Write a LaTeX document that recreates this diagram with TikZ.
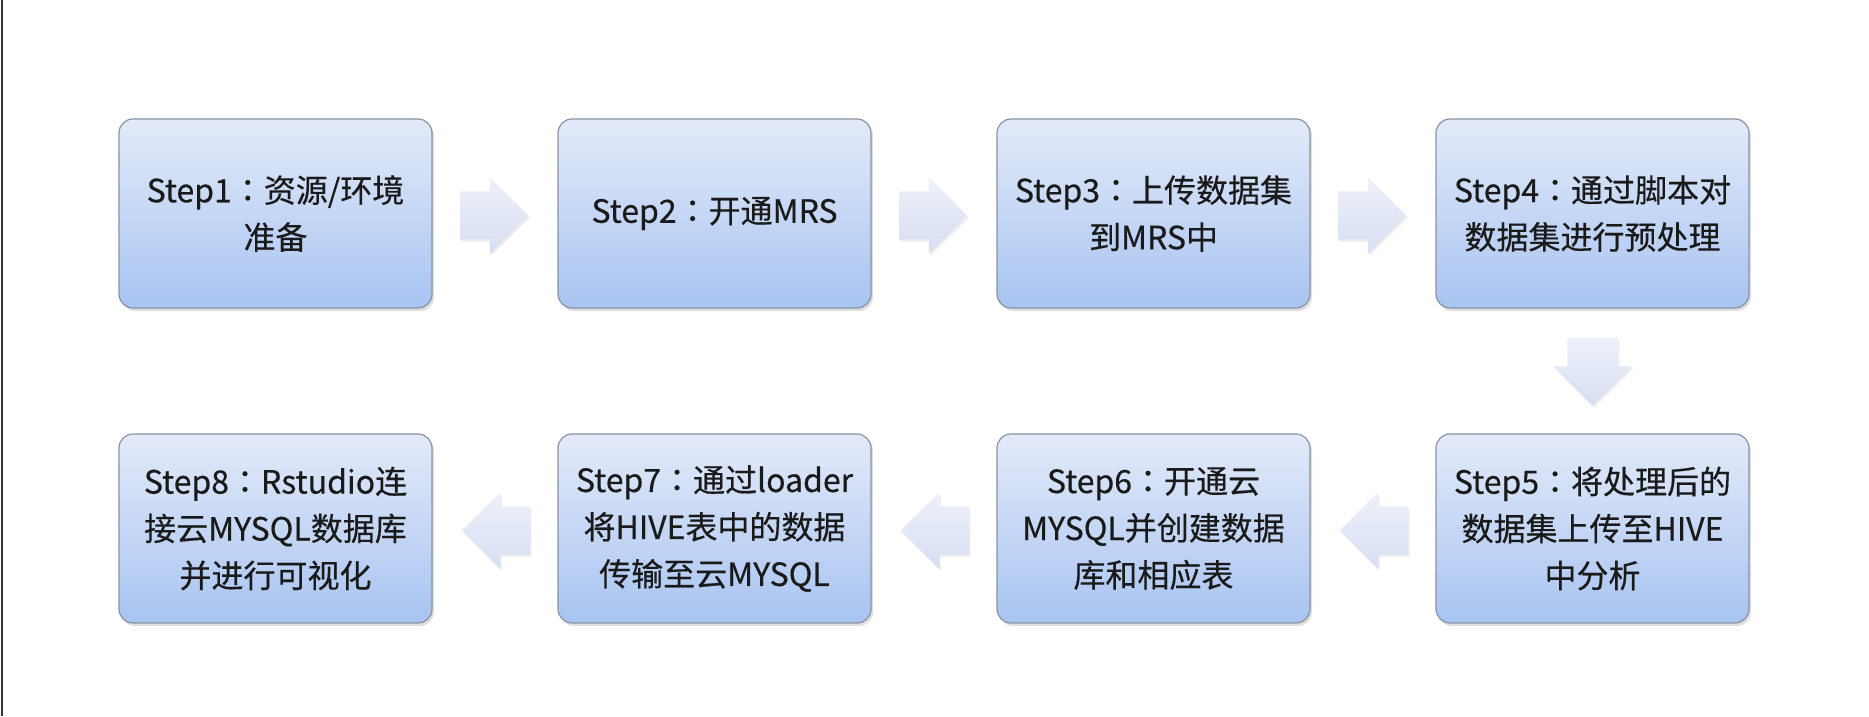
\documentclass[tikz,border=0pt]{standalone}
\usepackage{fontspec}
\setmainfont{Noto Sans CJK SC}[FakeBold=0.4]
\newfontfamily\jpfont{Noto Sans CJK JP}[FakeBold=0.4]
\newcommand\fwcolon{{\jpfont ：}}
\usetikzlibrary{shapes.arrows,shadows,calc}
\definecolor{boxtop}{HTML}{E3EAF9}
\definecolor{boxbot}{HTML}{A8C4F1}
\definecolor{boxedge}{HTML}{8A93A3}
\definecolor{arrtop}{HTML}{EEF1FA}
\definecolor{arrbot}{HTML}{D6DEF2}
\definecolor{txt}{HTML}{1A1A1A}
\tikzset{
  stepbox/.style={draw=boxedge, line width=1.2pt, rounded corners=14pt,
    top color=boxtop, bottom color=boxbot,
    minimum width=313pt, minimum height=189pt, inner sep=0pt,
    align=center, text=txt, font=\fontsize{32}{47}\selectfont,
    drop shadow={opacity=0.25, shadow xshift=2pt, shadow yshift=-3pt}},
  blockarrow/.style={single arrow, draw=none, top color=arrtop, bottom color=arrbot,
    minimum height=68pt, minimum width=0pt, single arrow head extend=14pt,
    single arrow head indent=0pt, inner xsep=0pt, inner ysep=24pt,
    drop shadow={opacity=0.15, shadow xshift=1.5pt, shadow yshift=-2pt}},
  downarrow/.style={blockarrow, shape border rotate=270, inner xsep=25pt, inner ysep=0pt}
}
\begin{document}
\begin{tikzpicture}[x=1pt,y=-1pt]
\useasboundingbox (0,0) rectangle (1869,716);
\fill[white] (0,0) rectangle (1869,716);
\draw[line width=2pt, color=black!80] (1.5,0) -- (1.5,716);

\node[stepbox] (s1) at (275.5,213.5) {Step1\fwcolon 资源/环境\\准备};
\node[stepbox] (s2) at (714.5,213.5) {Step2\fwcolon 开通MRS};
\node[stepbox] (s3) at (1153.5,213.5) {Step3\fwcolon 上传数据集\\到MRS中};
\node[stepbox] (s4) at (1592.5,213.5) {Step4\fwcolon 通过脚本对\\数据集进行预处理};
\node[stepbox] (s5) at (1592.5,528.5) {Step5\fwcolon 将处理后的\\数据集上传至HIVE\\中分析};
\node[stepbox] (s6) at (1153.5,528.5) {Step6\fwcolon 开通云\\MYSQL并创建数据\\库和相应表};
\node[stepbox] (s7) at (714.5,528.5) {Step7\fwcolon 通过loader\\将HIVE表中的数据\\传输至云MYSQL};
\node[stepbox] (s8) at (275.5,528.5) {Step8\fwcolon Rstudio连\\接云MYSQL数据库\\并进行可视化};

\node[blockarrow] (a12) at ($(s1.east)!0.5!(s2.west)+(-13,2)$) {};
\node[blockarrow] (a23) at ($(s2.east)!0.5!(s3.west)+(-13,2)$) {};
\node[blockarrow] (a34) at ($(s3.east)!0.5!(s4.west)+(-13,2)$) {};
\node[downarrow] (a45) at ($(s4.south)!0.5!(s5.north)+(0,-12)$) {};
\node[blockarrow, shape border rotate=180] (a56) at ($(s5.west)!0.5!(s6.east)+(13,2)$) {};
\node[blockarrow, shape border rotate=180] (a67) at ($(s6.west)!0.5!(s7.east)+(13,2)$) {};
\node[blockarrow, shape border rotate=180] (a78) at ($(s7.west)!0.5!(s8.east)+(13,2)$) {};
\end{tikzpicture}
\end{document}
